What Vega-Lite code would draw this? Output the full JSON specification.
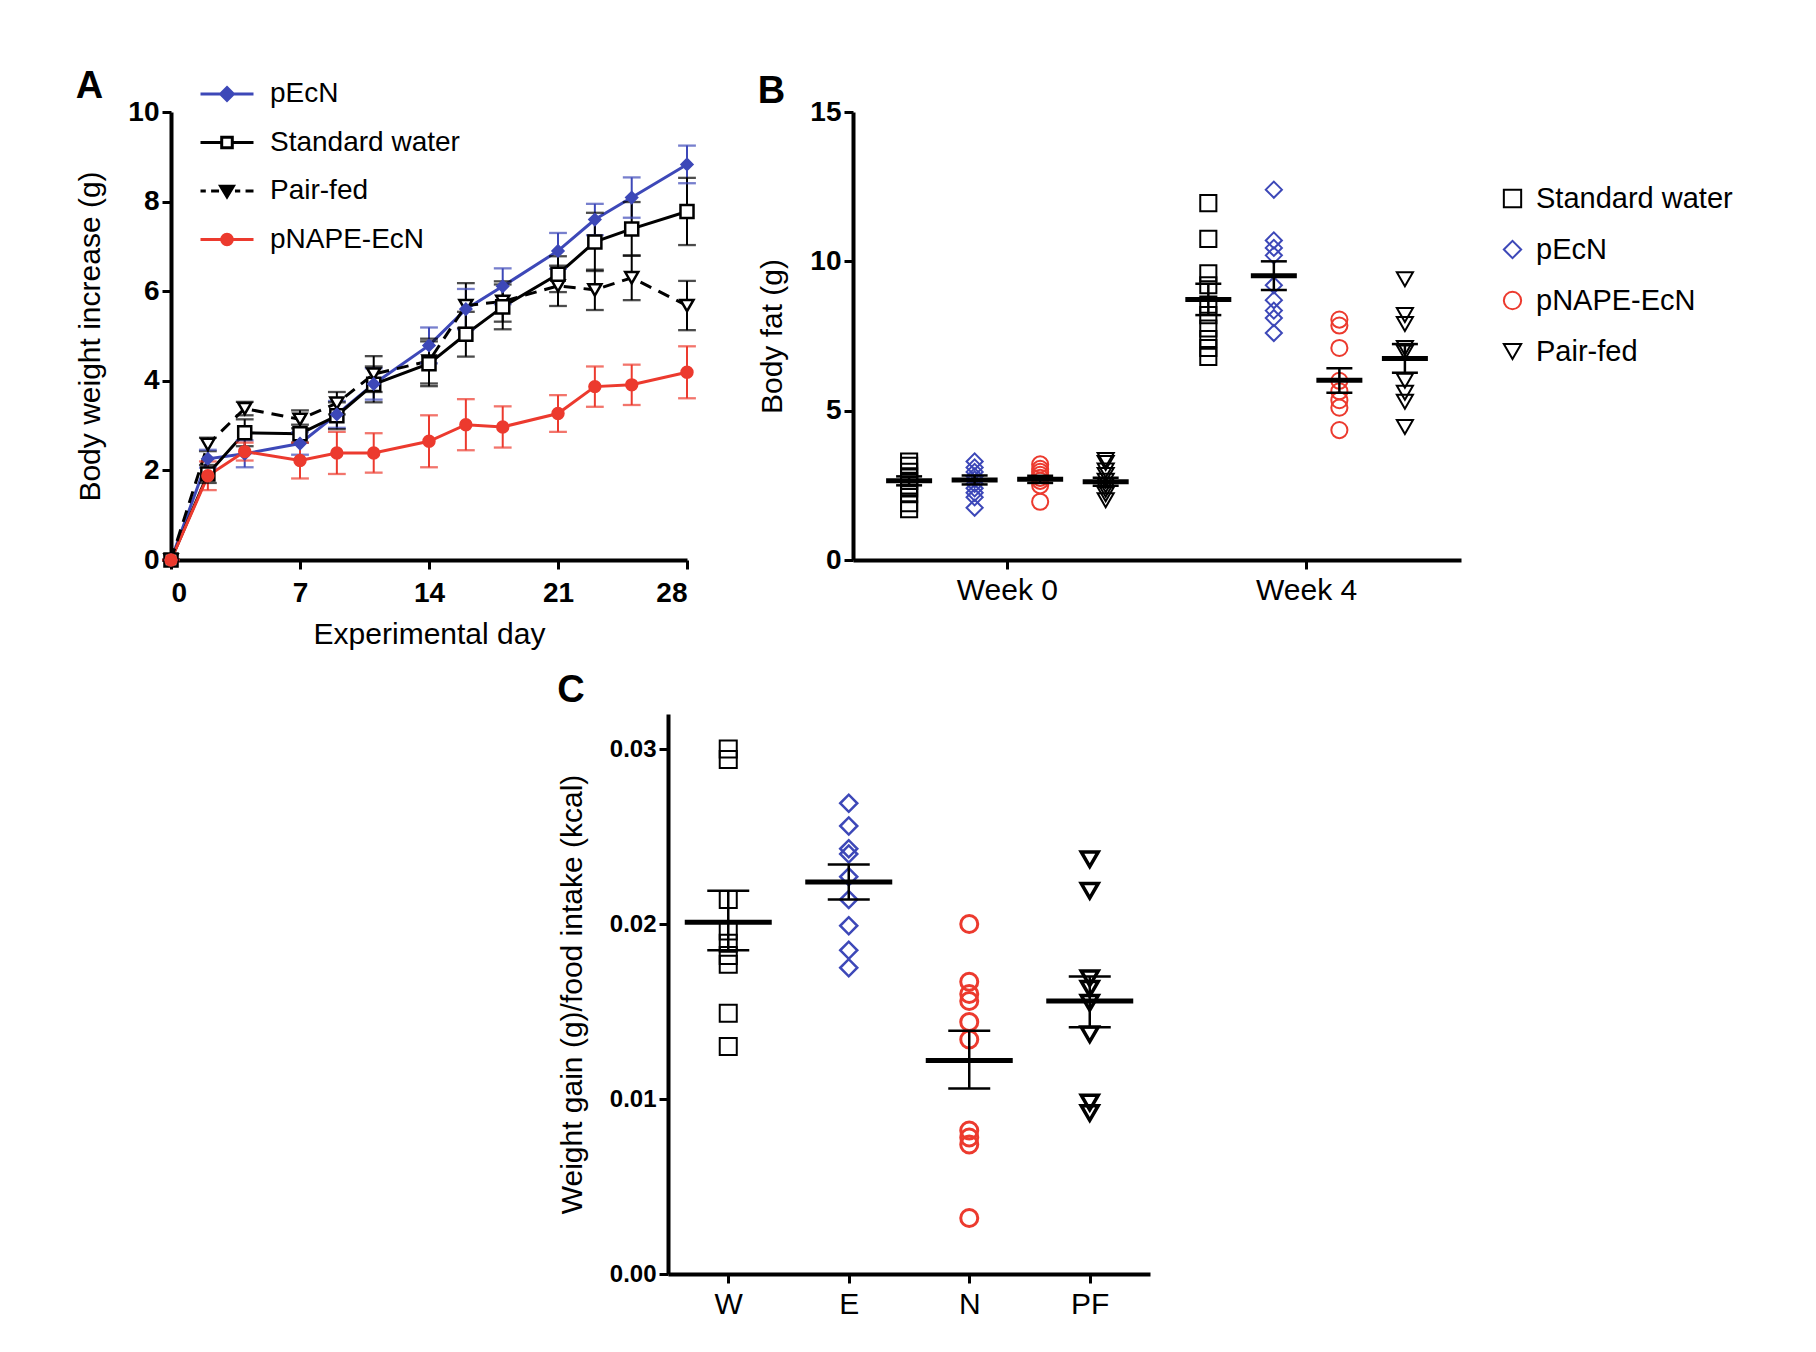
{
  "$schema": "https://vega.github.io/schema/vega-lite/v6.json",
  "background": "white",
  "padding": {"left": 75, "top": 66, "right": 5, "bottom": 5},
  "config": {
    "font": "Liberation Sans",
    "view": {"stroke": null},
    "axis": {"grid": false, "domainColor": "black", "domainWidth": 4, "tickColor": "black", "tickWidth": 3, "tickSize": 9, "labelColor": "black", "titleColor": "black", "labelFontWeight": "bold", "labelFontSize": 28, "labelPadding": 3, "titleFontSize": 30, "titleFontWeight": "normal", "titlePadding": 22},
    "title": {"fontSize": 38, "fontWeight": "bold", "anchor": "start", "frame": "bounds", "color": "black"},
    "legend": {"labelColor": "black", "labelFontSize": 28, "padding": 0, "labelLimit": 400}
  },
  "datasets": {
    "weights": [
      {"group": "pEcN", "day": 0, "mean": 0, "lo": 0, "hi": 0},
      {"group": "pEcN", "day": 2, "mean": 2.26, "lo": 2.06, "hi": 2.46},
      {"group": "pEcN", "day": 4, "mean": 2.37, "lo": 2.07, "hi": 2.67},
      {"group": "pEcN", "day": 7, "mean": 2.6, "lo": 2.35, "hi": 2.85},
      {"group": "pEcN", "day": 9, "mean": 3.25, "lo": 2.95, "hi": 3.55},
      {"group": "pEcN", "day": 11, "mean": 3.93, "lo": 3.58, "hi": 4.28},
      {"group": "pEcN", "day": 14, "mean": 4.79, "lo": 4.39, "hi": 5.19},
      {"group": "pEcN", "day": 16, "mean": 5.6, "lo": 5.15, "hi": 6.05},
      {"group": "pEcN", "day": 18, "mean": 6.11, "lo": 5.71, "hi": 6.51},
      {"group": "pEcN", "day": 21, "mean": 6.9, "lo": 6.5, "hi": 7.3},
      {"group": "pEcN", "day": 23, "mean": 7.6, "lo": 7.25, "hi": 7.95},
      {"group": "pEcN", "day": 25, "mean": 8.09, "lo": 7.64, "hi": 8.54},
      {"group": "pEcN", "day": 28, "mean": 8.83, "lo": 8.41, "hi": 9.25},
      {"group": "Standard water", "day": 0, "mean": 0, "lo": 0, "hi": 0},
      {"group": "Standard water", "day": 2, "mean": 1.92, "lo": 1.72, "hi": 2.12},
      {"group": "Standard water", "day": 4, "mean": 2.84, "lo": 2.54, "hi": 3.14},
      {"group": "Standard water", "day": 7, "mean": 2.82, "lo": 2.62, "hi": 3.02},
      {"group": "Standard water", "day": 9, "mean": 3.22, "lo": 2.92, "hi": 3.52},
      {"group": "Standard water", "day": 11, "mean": 3.92, "lo": 3.52, "hi": 4.32},
      {"group": "Standard water", "day": 14, "mean": 4.38, "lo": 3.88, "hi": 4.88},
      {"group": "Standard water", "day": 16, "mean": 5.04, "lo": 4.54, "hi": 5.54},
      {"group": "Standard water", "day": 18, "mean": 5.65, "lo": 5.15, "hi": 6.15},
      {"group": "Standard water", "day": 21, "mean": 6.38, "lo": 5.98, "hi": 6.78},
      {"group": "Standard water", "day": 23, "mean": 7.1, "lo": 6.45, "hi": 7.75},
      {"group": "Standard water", "day": 25, "mean": 7.39, "lo": 6.79, "hi": 7.99},
      {"group": "Standard water", "day": 28, "mean": 7.78, "lo": 7.03, "hi": 8.53},
      {"group": "Pair-fed", "day": 0, "mean": 0, "lo": 0, "hi": 0},
      {"group": "Pair-fed", "day": 2, "mean": 2.58, "lo": 2.43, "hi": 2.73},
      {"group": "Pair-fed", "day": 4, "mean": 3.38, "lo": 3.23, "hi": 3.53},
      {"group": "Pair-fed", "day": 7, "mean": 3.14, "lo": 2.94, "hi": 3.34},
      {"group": "Pair-fed", "day": 9, "mean": 3.5, "lo": 3.25, "hi": 3.75},
      {"group": "Pair-fed", "day": 11, "mean": 4.15, "lo": 3.75, "hi": 4.55},
      {"group": "Pair-fed", "day": 14, "mean": 4.44, "lo": 3.94, "hi": 4.94},
      {"group": "Pair-fed", "day": 16, "mean": 5.68, "lo": 5.18, "hi": 6.18},
      {"group": "Pair-fed", "day": 18, "mean": 5.77, "lo": 5.32, "hi": 6.22},
      {"group": "Pair-fed", "day": 21, "mean": 6.12, "lo": 5.67, "hi": 6.57},
      {"group": "Pair-fed", "day": 23, "mean": 6.03, "lo": 5.58, "hi": 6.48},
      {"group": "Pair-fed", "day": 25, "mean": 6.3, "lo": 5.8, "hi": 6.8},
      {"group": "Pair-fed", "day": 28, "mean": 5.68, "lo": 5.13, "hi": 6.23},
      {"group": "pNAPE-EcN", "day": 0, "mean": 0, "lo": 0, "hi": 0},
      {"group": "pNAPE-EcN", "day": 2, "mean": 1.88, "lo": 1.56, "hi": 2.2},
      {"group": "pNAPE-EcN", "day": 4, "mean": 2.42, "lo": 2.22, "hi": 2.62},
      {"group": "pNAPE-EcN", "day": 7, "mean": 2.22, "lo": 1.82, "hi": 2.62},
      {"group": "pNAPE-EcN", "day": 9, "mean": 2.39, "lo": 1.92, "hi": 2.86},
      {"group": "pNAPE-EcN", "day": 11, "mean": 2.39, "lo": 1.95, "hi": 2.83},
      {"group": "pNAPE-EcN", "day": 14, "mean": 2.65, "lo": 2.07, "hi": 3.23},
      {"group": "pNAPE-EcN", "day": 16, "mean": 3.02, "lo": 2.45, "hi": 3.59},
      {"group": "pNAPE-EcN", "day": 18, "mean": 2.97, "lo": 2.51, "hi": 3.43},
      {"group": "pNAPE-EcN", "day": 21, "mean": 3.27, "lo": 2.86, "hi": 3.68},
      {"group": "pNAPE-EcN", "day": 23, "mean": 3.87, "lo": 3.42, "hi": 4.32},
      {"group": "pNAPE-EcN", "day": 25, "mean": 3.91, "lo": 3.46, "hi": 4.36},
      {"group": "pNAPE-EcN", "day": 28, "mean": 4.19, "lo": 3.61, "hi": 4.77}
    ],
    "fatPoints": [
      {"week": "Week 0", "group": "Standard water", "value": 3.3},
      {"week": "Week 0", "group": "Standard water", "value": 3.15},
      {"week": "Week 0", "group": "Standard water", "value": 2.95},
      {"week": "Week 0", "group": "Standard water", "value": 2.8},
      {"week": "Week 0", "group": "Standard water", "value": 2.65},
      {"week": "Week 0", "group": "Standard water", "value": 2.5},
      {"week": "Week 0", "group": "Standard water", "value": 2.4},
      {"week": "Week 0", "group": "Standard water", "value": 2.2},
      {"week": "Week 0", "group": "Standard water", "value": 1.9},
      {"week": "Week 0", "group": "Standard water", "value": 1.7},
      {"week": "Week 0", "group": "pEcN", "value": 3.3},
      {"week": "Week 0", "group": "pEcN", "value": 3.1},
      {"week": "Week 0", "group": "pEcN", "value": 2.95},
      {"week": "Week 0", "group": "pEcN", "value": 2.8},
      {"week": "Week 0", "group": "pEcN", "value": 2.7},
      {"week": "Week 0", "group": "pEcN", "value": 2.55},
      {"week": "Week 0", "group": "pEcN", "value": 2.4},
      {"week": "Week 0", "group": "pEcN", "value": 2.25},
      {"week": "Week 0", "group": "pEcN", "value": 2.1},
      {"week": "Week 0", "group": "pEcN", "value": 1.75},
      {"week": "Week 0", "group": "pNAPE-EcN", "value": 3.2},
      {"week": "Week 0", "group": "pNAPE-EcN", "value": 3.05},
      {"week": "Week 0", "group": "pNAPE-EcN", "value": 2.95},
      {"week": "Week 0", "group": "pNAPE-EcN", "value": 2.85},
      {"week": "Week 0", "group": "pNAPE-EcN", "value": 2.75},
      {"week": "Week 0", "group": "pNAPE-EcN", "value": 2.65},
      {"week": "Week 0", "group": "pNAPE-EcN", "value": 2.5},
      {"week": "Week 0", "group": "pNAPE-EcN", "value": 1.95},
      {"week": "Week 0", "group": "Pair-fed", "value": 3.35},
      {"week": "Week 0", "group": "Pair-fed", "value": 3.25},
      {"week": "Week 0", "group": "Pair-fed", "value": 3.0},
      {"week": "Week 0", "group": "Pair-fed", "value": 2.85},
      {"week": "Week 0", "group": "Pair-fed", "value": 2.65},
      {"week": "Week 0", "group": "Pair-fed", "value": 2.5},
      {"week": "Week 0", "group": "Pair-fed", "value": 2.35},
      {"week": "Week 0", "group": "Pair-fed", "value": 2.2},
      {"week": "Week 0", "group": "Pair-fed", "value": 2.0},
      {"week": "Week 4", "group": "Standard water", "value": 11.95},
      {"week": "Week 4", "group": "Standard water", "value": 10.75},
      {"week": "Week 4", "group": "Standard water", "value": 9.6},
      {"week": "Week 4", "group": "Standard water", "value": 9.2},
      {"week": "Week 4", "group": "Standard water", "value": 8.55},
      {"week": "Week 4", "group": "Standard water", "value": 8.2},
      {"week": "Week 4", "group": "Standard water", "value": 7.75},
      {"week": "Week 4", "group": "Standard water", "value": 7.4},
      {"week": "Week 4", "group": "Standard water", "value": 7.1},
      {"week": "Week 4", "group": "Standard water", "value": 6.8},
      {"week": "Week 4", "group": "pEcN", "value": 12.4},
      {"week": "Week 4", "group": "pEcN", "value": 10.7},
      {"week": "Week 4", "group": "pEcN", "value": 10.45},
      {"week": "Week 4", "group": "pEcN", "value": 10.2},
      {"week": "Week 4", "group": "pEcN", "value": 9.2},
      {"week": "Week 4", "group": "pEcN", "value": 8.7},
      {"week": "Week 4", "group": "pEcN", "value": 8.35},
      {"week": "Week 4", "group": "pEcN", "value": 8.1},
      {"week": "Week 4", "group": "pEcN", "value": 7.6},
      {"week": "Week 4", "group": "pNAPE-EcN", "value": 8.05},
      {"week": "Week 4", "group": "pNAPE-EcN", "value": 7.85},
      {"week": "Week 4", "group": "pNAPE-EcN", "value": 7.1},
      {"week": "Week 4", "group": "pNAPE-EcN", "value": 6.0},
      {"week": "Week 4", "group": "pNAPE-EcN", "value": 5.65},
      {"week": "Week 4", "group": "pNAPE-EcN", "value": 5.35},
      {"week": "Week 4", "group": "pNAPE-EcN", "value": 5.1},
      {"week": "Week 4", "group": "pNAPE-EcN", "value": 4.35},
      {"week": "Week 4", "group": "Pair-fed", "value": 9.4},
      {"week": "Week 4", "group": "Pair-fed", "value": 8.2},
      {"week": "Week 4", "group": "Pair-fed", "value": 7.9},
      {"week": "Week 4", "group": "Pair-fed", "value": 7.1},
      {"week": "Week 4", "group": "Pair-fed", "value": 6.95},
      {"week": "Week 4", "group": "Pair-fed", "value": 6.0},
      {"week": "Week 4", "group": "Pair-fed", "value": 5.6},
      {"week": "Week 4", "group": "Pair-fed", "value": 5.3},
      {"week": "Week 4", "group": "Pair-fed", "value": 4.45}
    ],
    "fatMeans": [
      {"week": "Week 0", "group": "Standard water", "mean": 2.65, "lo": 2.5, "hi": 2.8},
      {"week": "Week 0", "group": "pEcN", "mean": 2.68, "lo": 2.53, "hi": 2.83},
      {"week": "Week 0", "group": "pNAPE-EcN", "mean": 2.7, "lo": 2.58, "hi": 2.82},
      {"week": "Week 0", "group": "Pair-fed", "mean": 2.62, "lo": 2.49, "hi": 2.75},
      {"week": "Week 4", "group": "Standard water", "mean": 8.72, "lo": 8.2, "hi": 9.25},
      {"week": "Week 4", "group": "pEcN", "mean": 9.52, "lo": 9.04, "hi": 10.0},
      {"week": "Week 4", "group": "pNAPE-EcN", "mean": 6.02, "lo": 5.6, "hi": 6.42},
      {"week": "Week 4", "group": "Pair-fed", "mean": 6.75, "lo": 6.27, "hi": 7.23}
    ],
    "gainPoints": [
      {"cat": "W", "value": 0.0300}, {"cat": "W", "value": 0.0294}, {"cat": "W", "value": 0.0214},
      {"cat": "W", "value": 0.0196}, {"cat": "W", "value": 0.0189}, {"cat": "W", "value": 0.0182},
      {"cat": "W", "value": 0.0177}, {"cat": "W", "value": 0.0149}, {"cat": "W", "value": 0.0130},
      {"cat": "E", "value": 0.0269}, {"cat": "E", "value": 0.0256}, {"cat": "E", "value": 0.0243},
      {"cat": "E", "value": 0.0240}, {"cat": "E", "value": 0.0227}, {"cat": "E", "value": 0.0214},
      {"cat": "E", "value": 0.0199}, {"cat": "E", "value": 0.0185}, {"cat": "E", "value": 0.0175},
      {"cat": "N", "value": 0.0200}, {"cat": "N", "value": 0.0167}, {"cat": "N", "value": 0.0160},
      {"cat": "N", "value": 0.0156}, {"cat": "N", "value": 0.0144}, {"cat": "N", "value": 0.0134},
      {"cat": "N", "value": 0.0082}, {"cat": "N", "value": 0.0078}, {"cat": "N", "value": 0.0074},
      {"cat": "N", "value": 0.0032},
      {"cat": "PF", "value": 0.0237}, {"cat": "PF", "value": 0.0219}, {"cat": "PF", "value": 0.0169},
      {"cat": "PF", "value": 0.0163}, {"cat": "PF", "value": 0.0155}, {"cat": "PF", "value": 0.0137},
      {"cat": "PF", "value": 0.0098}, {"cat": "PF", "value": 0.0092}
    ],
    "gainMeans": [
      {"cat": "W", "mean": 0.0201, "lo": 0.0185, "hi": 0.0219},
      {"cat": "E", "mean": 0.0224, "lo": 0.0214, "hi": 0.0234},
      {"cat": "N", "mean": 0.0122, "lo": 0.0106, "hi": 0.0139},
      {"cat": "PF", "mean": 0.0156, "lo": 0.0141, "hi": 0.0170}
    ]
  },
  "spacing": 23,
  "resolve": {"scale": {"x": "independent", "y": "independent", "color": "independent", "shape": "independent", "fill": "independent", "stroke": "independent", "strokeWidth": "independent", "xOffset": "independent"}, "legend": {"color": "independent", "shape": "independent"}},
  "vconcat": [
    {
      "bounds": "flush",
      "spacing": 166,
      "resolve": {"scale": {"x": "independent", "y": "independent", "color": "independent", "shape": "independent", "fill": "independent", "stroke": "independent", "strokeWidth": "independent", "xOffset": "independent"}, "legend": {"color": "independent", "shape": "independent"}},
      "hconcat": [
        {
          "title": {"text": "A", "offset": -40},
          "width": 516,
          "height": 448,
          "data": {"name": "weights"},
          "encoding": {
            "x": {"field": "day", "type": "quantitative", "scale": {"domain": [0, 28], "nice": false}, "axis": {"values": [0, 7, 14, 21, 28], "title": "Experimental day", "labelPadding": 10, "titlePadding": 12}}
          },
          "layer": [
            {
              "transform": [{"filter": "datum.group != 'Pair-fed'"}],
              "mark": {"type": "line", "strokeWidth": 3},
              "encoding": {
                "y": {"field": "mean", "type": "quantitative", "scale": {"domain": [0, 10], "nice": false}, "axis": {"values": [0, 2, 4, 6, 8, 10], "title": "Body weight increase (g)"}},
                "color": {"field": "group", "type": "nominal", "scale": {"domain": ["pEcN", "Standard water", "Pair-fed", "pNAPE-EcN"], "range": ["#3d48b8", "#000000", "#000000", "#ec3a2e"]},
                  "legend": {"orient": "none", "legendX": 28, "legendY": -46, "title": null, "symbolSize": 2809, "labelFontSize": 28, "labelOffset": 15, "rowPadding": 6.5, "padding": 0,
                    "encode": {"symbols": {"update": {
                      "shape": {"signal": "datum.value === 'pEcN' ? 'M-1,0H1M0,-0.24L0.24,0L0,0.24L-0.24,0Z' : datum.value === 'Standard water' ? 'M-1,0H-0.2M0.2,0H1M-0.2,-0.2H0.2V0.2H-0.2Z' : datum.value === 'Pair-fed' ? 'M-1,0H-0.8M-0.6,0H-0.3M0.3,0H0.5M0.7,0H1M-0.24,-0.18H0.24L0,0.22Z' : 'M-1,0H1M0.2,0A0.2,0.2,0,1,1,-0.2,0A0.2,0.2,0,1,1,0.2,0Z'"},
                      "fill": {"signal": "datum.value === 'pEcN' ? '#3d48b8' : datum.value === 'pNAPE-EcN' ? '#ec3a2e' : datum.value === 'Pair-fed' ? '#000000' : '#ffffff'"},
                      "stroke": {"signal": "datum.value === 'pEcN' ? '#3d48b8' : datum.value === 'pNAPE-EcN' ? '#ec3a2e' : '#000000'"},
                      "strokeWidth": {"value": 3},
                      "opacity": {"value": 1}
                    }}}
                  }}
              }
            },
            {
              "transform": [{"filter": "datum.group == 'Pair-fed'"}],
              "mark": {"type": "line", "strokeWidth": 3, "strokeDash": [12, 8]},
              "encoding": {
                "y": {"field": "mean", "type": "quantitative"},
                "color": {"field": "group", "type": "nominal"}
              }
            },
            {
              "mark": {"type": "rule", "strokeWidth": 2},
              "encoding": {
                "y": {"field": "lo", "type": "quantitative"},
                "y2": {"field": "hi"},
                "stroke": {"field": "group", "type": "nominal", "scale": {"domain": ["pEcN", "Standard water", "Pair-fed", "pNAPE-EcN"], "range": ["#3d48b8", "#000000", "#000000", "#ec3a2e"]}, "legend": null}
              }
            },
            {
              "mark": {"type": "tick", "orient": "horizontal", "size": 16, "thickness": 0.5, "filled": false, "strokeWidth": 1.8},
              "encoding": {
                "y": {"field": "lo", "type": "quantitative"},
                "stroke": {"field": "group", "type": "nominal", "legend": null}
              }
            },
            {
              "mark": {"type": "tick", "orient": "horizontal", "size": 16, "thickness": 0.5, "filled": false, "strokeWidth": 1.8},
              "encoding": {
                "y": {"field": "hi", "type": "quantitative"},
                "stroke": {"field": "group", "type": "nominal", "legend": null}
              }
            },
            {
              "transform": [{"filter": "datum.group == 'Pair-fed'"}],
              "mark": {"type": "point", "shape": "triangle-down", "filled": false, "fill": "#ffffff", "stroke": "#000000", "strokeWidth": 2.5, "opacity": 1, "size": 170},
              "encoding": {"y": {"field": "mean", "type": "quantitative"}}
            },
            {
              "transform": [{"filter": "datum.group == 'Standard water'"}],
              "mark": {"type": "point", "shape": "square", "filled": false, "fill": "#ffffff", "stroke": "#000000", "strokeWidth": 2.5, "opacity": 1, "size": 170},
              "encoding": {"y": {"field": "mean", "type": "quantitative"}}
            },
            {
              "transform": [{"filter": "datum.group == 'pEcN'"}],
              "mark": {"type": "point", "shape": "diamond", "filled": false, "fill": "#3d48b8", "stroke": "#3d48b8", "strokeWidth": 2, "opacity": 1, "size": 130},
              "encoding": {"y": {"field": "mean", "type": "quantitative"}}
            },
            {
              "transform": [{"filter": "datum.group == 'pNAPE-EcN'"}],
              "mark": {"type": "point", "shape": "circle", "filled": false, "fill": "#ec3a2e", "stroke": "#ec3a2e", "strokeWidth": 2, "opacity": 1, "size": 130},
              "encoding": {"y": {"field": "mean", "type": "quantitative"}}
            }
          ]
        },
        {
          "title": {"text": "B", "offset": -13},
          "width": 608,
          "height": 448,
          "encoding": {
            "x": {"field": "week", "type": "nominal", "scale": {"domain": ["Week 0", "Week 4"], "paddingInner": 0.124, "paddingOuter": 0.078}, "axis": {"title": null, "labelAngle": 0, "labelFontWeight": "normal", "labelFontSize": 30, "labelPadding": 6}},
            "xOffset": {"field": "group", "type": "nominal", "scale": {"domain": ["Standard water", "pEcN", "pNAPE-EcN", "Pair-fed"]}}
          },
          "layer": [
            {
              "data": {"name": "fatPoints"},
              "mark": {"type": "point", "filled": false, "strokeWidth": 2, "size": 260, "opacity": 1},
              "encoding": {
                "y": {"field": "value", "type": "quantitative", "scale": {"domain": [0, 15], "nice": false}, "axis": {"values": [0, 5, 10, 15], "title": "Body fat (g)", "titlePadding": 22}},
                "color": {"field": "group", "type": "nominal", "scale": {"domain": ["Standard water", "pEcN", "pNAPE-EcN", "Pair-fed"], "range": ["#000000", "#3d48b8", "#ec3a2e", "#000000"]},
                  "legend": {"orient": "none", "legendX": 645, "legendY": 72, "title": null, "symbolSize": 300, "symbolStrokeWidth": 2, "labelFontSize": 29, "labelOffset": 9, "rowPadding": 21, "padding": 0}},
                "shape": {"field": "group", "type": "nominal", "scale": {"domain": ["Standard water", "pEcN", "pNAPE-EcN", "Pair-fed"], "range": ["square", "diamond", "circle", "triangle-down"]},
                  "legend": {"orient": "none", "legendX": 645, "legendY": 72, "title": null, "symbolSize": 300, "symbolStrokeWidth": 2, "labelFontSize": 29, "labelOffset": 9, "rowPadding": 21, "padding": 0}}
              }
            },
            {
              "data": {"name": "fatMeans"},
              "mark": {"type": "rule", "color": "black", "strokeWidth": 2.5},
              "encoding": {
                "y": {"field": "lo", "type": "quantitative"},
                "y2": {"field": "hi"}
              }
            },
            {
              "data": {"name": "fatMeans"},
              "mark": {"type": "tick", "orient": "horizontal", "color": "black", "size": 26, "thickness": 2.5, "opacity": 1},
              "encoding": {"y": {"field": "lo", "type": "quantitative"}}
            },
            {
              "data": {"name": "fatMeans"},
              "mark": {"type": "tick", "orient": "horizontal", "color": "black", "size": 26, "thickness": 2.5, "opacity": 1},
              "encoding": {"y": {"field": "hi", "type": "quantitative"}}
            },
            {
              "data": {"name": "fatMeans"},
              "mark": {"type": "tick", "orient": "horizontal", "color": "black", "size": 46, "thickness": 5, "opacity": 1},
              "encoding": {"y": {"field": "mean", "type": "quantitative"}}
            }
          ]
        }
      ]
    },
    {
      "bounds": "flush",
      "spacing": 20,
      "resolve": {"scale": {"x": "independent", "y": "independent", "color": "independent", "shape": "independent", "strokeWidth": "independent"}},
      "hconcat": [
        {
          "width": 477,
          "height": 10,
          "view": {"fill": "#ffffff", "stroke": null},
          "data": {"values": [{"v": 0}]},
          "mark": {"type": "point", "opacity": 0},
          "encoding": {
            "x": {"field": "v", "type": "quantitative", "scale": {"domain": [0, 1]}, "axis": null},
            "y": {"field": "v", "type": "quantitative", "scale": {"domain": [0, 1]}, "axis": null}
          }
        },
        {
          "title": {"text": "C"},
          "width": 482,
          "height": 560,
          "encoding": {
            "x": {"field": "cat", "type": "nominal", "scale": {"type": "point", "padding": 0.5, "domain": ["W", "E", "N", "PF"]}, "axis": {"title": null, "labelAngle": 0, "labelFontWeight": "normal", "labelFontSize": 30, "labelPadding": 6}}
          },
          "layer": [
            {
              "data": {"name": "gainPoints"},
              "mark": {"type": "point", "filled": false, "size": 290, "opacity": 1},
              "encoding": {
                "y": {"field": "value", "type": "quantitative", "scale": {"domain": [0, 0.032], "nice": false}, "axis": {"values": [0, 0.01, 0.02, 0.03], "format": ".2f", "labelFontSize": 24, "title": "Weight gain (g)/food intake (kcal)", "titlePadding": 22}},
                "color": {"field": "cat", "type": "nominal", "scale": {"domain": ["W", "E", "N", "PF"], "range": ["#000000", "#3d48b8", "#ec3a2e", "#000000"]}, "legend": null},
                "shape": {"field": "cat", "type": "nominal", "scale": {"domain": ["W", "E", "N", "PF"], "range": ["square", "diamond", "circle", "triangle-down"]}, "legend": null},
                "strokeWidth": {"field": "cat", "type": "nominal", "scale": {"domain": ["W", "E", "N", "PF"], "range": [2, 3.5, 2, 2]}, "legend": null}
              }
            },
            {
              "data": {"name": "gainMeans"},
              "mark": {"type": "rule", "color": "black", "strokeWidth": 2.5},
              "encoding": {
                "y": {"field": "lo", "type": "quantitative"},
                "y2": {"field": "hi"}
              }
            },
            {
              "data": {"name": "gainMeans"},
              "mark": {"type": "tick", "orient": "horizontal", "color": "black", "size": 42, "thickness": 2.5, "opacity": 1},
              "encoding": {"y": {"field": "lo", "type": "quantitative"}}
            },
            {
              "data": {"name": "gainMeans"},
              "mark": {"type": "tick", "orient": "horizontal", "color": "black", "size": 42, "thickness": 2.5, "opacity": 1},
              "encoding": {"y": {"field": "hi", "type": "quantitative"}}
            },
            {
              "data": {"name": "gainMeans"},
              "mark": {"type": "tick", "orient": "horizontal", "color": "black", "size": 87, "thickness": 5, "opacity": 1},
              "encoding": {"y": {"field": "mean", "type": "quantitative"}}
            }
          ]
        }
      ]
    }
  ]
}
